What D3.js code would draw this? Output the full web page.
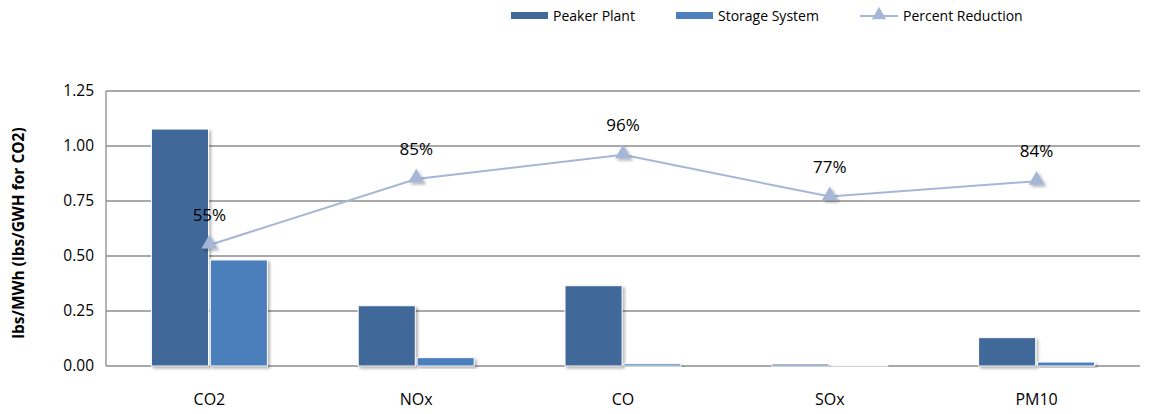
<!DOCTYPE html>
<html><head><meta charset="utf-8">
<script src="https://cdn.jsdelivr.net/npm/d3@7"></script>
<style>body{margin:0;background:#fff;} text{font-family:"Open Sans","Noto Sans",sans-serif;}</style>
</head><body>
<svg id="c" width="1162" height="414"></svg>
<script>
const categories = ["CO2","NOx","CO","SOx","PM10"];
const peakerPlant = [1.077, 0.274, 0.365, 0.009, 0.129];
const storageSystem = [0.482, 0.038, 0.010, 0.002, 0.018];
const percentReduction = [0.55, 0.85, 0.96, 0.77, 0.84];
const percentLabels = ["55%","85%","96%","77%","84%"];
const yTicks = [0, 0.25, 0.5, 0.75, 1.0, 1.25];
const seriesNames = ["Peaker Plant","Storage System","Percent Reduction"];

const svg = d3.select("#c");
const m = {l:106, r:1140, t:91, b:366};
const x = d3.scaleBand().domain(categories).range([m.l, m.r]);
const xs = d3.scaleBand().domain([0,1]).range([-58, 58]).paddingInner(0.03);
const y = d3.scaleLinear().domain([0,1.25]).range([m.b, m.t]);
const cPeak = "#41699A", cStor = "#4C7FBC", cLine = "#A5B6D6";

const defs = svg.append("defs");
const f = defs.append("filter").attr("id","sh").attr("x","-20%").attr("y","-20%").attr("width","150%").attr("height","150%");
f.append("feDropShadow").attr("dx",2).attr("dy",2).attr("stdDeviation",1.5).attr("flood-color","#000").attr("flood-opacity",0.3);

// grid
svg.append("g").selectAll("line").data(yTicks).join("line")
  .attr("x1", m.l).attr("x2", m.r).attr("y1", d=>y(d)).attr("y2", d=>y(d))
  .attr("stroke","#8c8c8c").attr("stroke-width",1.3);
svg.append("line").attr("x1",m.l).attr("x2",m.l).attr("y1",m.t).attr("y2",m.b).attr("stroke","#8c8c8c").attr("stroke-width",1.3);

// y axis labels
const yAxis = d3.axisLeft(y).tickValues(yTicks).tickFormat(d3.format(".2f")).tickSize(0).tickPadding(12);
const ga = svg.append("g").attr("transform",`translate(${m.l},0)`).call(yAxis);
ga.select(".domain").remove();
ga.selectAll("text").attr("font-size",15.5).attr("fill","#000").style("font-family","'Open Sans','Noto Sans',sans-serif");

// x axis labels
const xAxis = d3.axisBottom(x).tickSize(0).tickPadding(28);
const gx = svg.append("g").attr("transform",`translate(0,${m.b})`).call(xAxis);
gx.select(".domain").remove();
gx.selectAll("text").attr("font-size",16).attr("fill","#000").style("font-family","'Open Sans','Noto Sans',sans-serif");

// bars
const series = [peakerPlant, storageSystem];
const cols = [cPeak, cStor];
series.forEach((vals, si) => {
  svg.append("g").selectAll("rect").data(vals).join("rect")
    .attr("x", (d,i)=> x(categories[i]) + x.bandwidth()/2 + xs(si))
    .attr("width", xs.bandwidth())
    .attr("y", d=>y(d)).attr("height", d=> y(0)-y(d))
    .attr("fill", cols[si]).attr("stroke","#fff").attr("stroke-width",1)
    .attr("filter","url(#sh)");
});

// line
const cx = (d,i)=> x(categories[i]) + x.bandwidth()/2;
const line = d3.line().x((d,i)=>cx(d,i)).y(d=>y(d));
svg.append("path").datum(percentReduction).attr("d", line).attr("fill","none").attr("stroke",cLine).attr("stroke-width",2);
const tri = d3.symbol().type(d3.symbolTriangle).size(110);
svg.append("g").selectAll("path").data(percentReduction).join("path")
  .attr("d", tri).attr("transform",(d,i)=>`translate(${cx(d,i)},${y(d)-1})`)
  .attr("fill",cLine).attr("filter","url(#sh)");
svg.append("g").selectAll("text").data(percentReduction).join("text")
  .attr("x",(d,i)=>cx(d,i)).attr("y",d=>y(d)-24)
  .attr("text-anchor","middle").attr("font-size",17).attr("fill","#000")
  .text((d,i)=>percentLabels[i]);

// y title
svg.append("text").attr("transform",`translate(24,233) rotate(-90)`)
  .attr("text-anchor","middle").attr("font-size",15.5).attr("font-weight","bold").text("lbs/MWh (lbs/GWH for CO2)");

// legend
const lg = svg.append("g");
const lx = [511, 676, 860];
[0,1].forEach(i=>{
  lg.append("rect").attr("x",lx[i]).attr("y",12).attr("width",37).attr("height",7).attr("fill",cols[i]);
  lg.append("text").attr("x",lx[i]+42).attr("y",21).attr("font-size",14).text(seriesNames[i]);
});
lg.append("line").attr("x1",lx[2]).attr("x2",lx[2]+38).attr("y1",16).attr("y2",16).attr("stroke",cLine).attr("stroke-width",2);
lg.append("path").attr("d",tri).attr("transform",`translate(${lx[2]+19},15) scale(0.9)`).attr("fill",cLine);
lg.append("text").attr("x",lx[2]+43).attr("y",21).attr("font-size",14).text(seriesNames[2]);
</script>
</body></html>
